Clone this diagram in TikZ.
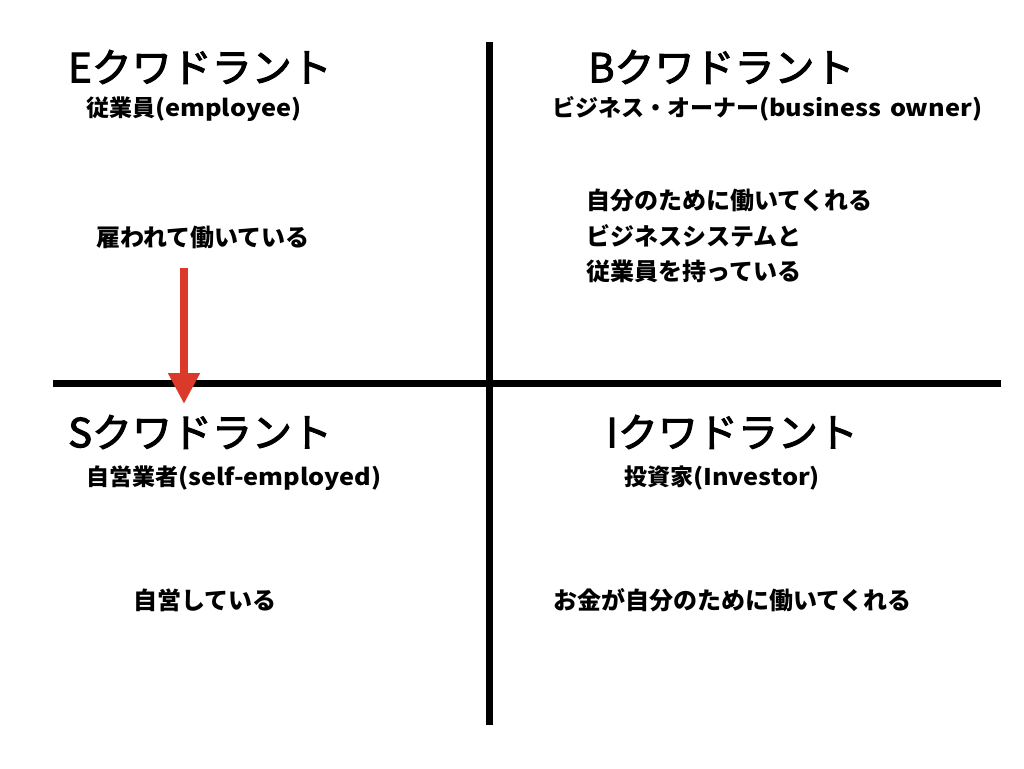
\documentclass[tikz,border=0pt]{standalone}
\usepackage{fontspec}
\newfontfamily\jp{Noto Sans CJK JP}
\newfontfamily\jptitle[FakeBold=2.5]{Noto Sans CJK JP}
\newfontfamily\jpwide[FakeStretch=1.1]{Noto Sans CJK JP}
\newcommand\lat[1]{{\jpwide #1}}
\usetikzlibrary{arrows.meta,positioning}
\definecolor{arrowred}{RGB}{219,58,42}

\begin{document}
\begin{tikzpicture}[x=1pt, y=-1pt,
    titlenode/.style = {anchor=west, inner sep=0pt, font=\jptitle\fontsize{40}{48}\selectfont},
    subnode/.style = {anchor=west, inner sep=0pt, font=\jp\bfseries\fontsize{23}{27}\selectfont},
    bodynode/.style = {anchor=west, inner sep=0pt, align=left,
    font=\jp\bfseries\fontsize{24}{35.5}\selectfont},
    axis/.style={draw, line width=7pt},
    downarrow/.style={draw=arrowred, line width=8pt, -{Triangle[width=30pt, length=31pt]}, arrowred}]

    \useasboundingbox (0,0) rectangle (1024,768);

    % axes of the quadrant
    \coordinate (left) at (53,383);
    \coordinate (right) at (1001,383);
    \coordinate (top) at (489,42);
    \coordinate (bottom) at (489,725);
    \draw[axis] (left) -- (right);
    \draw[axis] (top) -- (bottom);

    % E quadrant
    \node[titlenode] (etitle) at (68,67) {Eクワドラント};
    \node[subnode] (esub) at (86,109) {従業員\lat{(employee)}};
    \node[bodynode] (ebody) at (96,237) {雇われて働いている};

    % B quadrant
    \node[titlenode] (btitle) at (588,67) {Bクワドラント};
    \node[subnode] (bsub) at (552,109) {ビジネス・オーナー\lat{(business\hspace{9pt}owner)}};
    \node[bodynode] (bbody) at (586,236) {自分のために働いてくれる\\ビジネスシステムと\\従業員を持っている};

    % S quadrant
    \node[titlenode] (stitle) at (68,432) {Sクワドラント};
    \node[subnode] (ssub) at (86,478) {自営業者\lat{(self-employed)}};
    \node[bodynode] (sbody) at (133,600) {自営している};

    % I quadrant
    \node[titlenode] (ititle) at (606,432) {Iクワドラント};
    \node[subnode] (isub) at (624,478) {投資家\lat{(Investor)}};
    \node[bodynode] (ibody) at (553,600) {お金が自分のために働いてくれる};

    % move from E to S
    \coordinate (arrowstart) at (184,268);
    \coordinate (arrowend) at (184,404);
    \draw[downarrow] (arrowstart) -- (arrowend);
\end{tikzpicture}
\end{document}
